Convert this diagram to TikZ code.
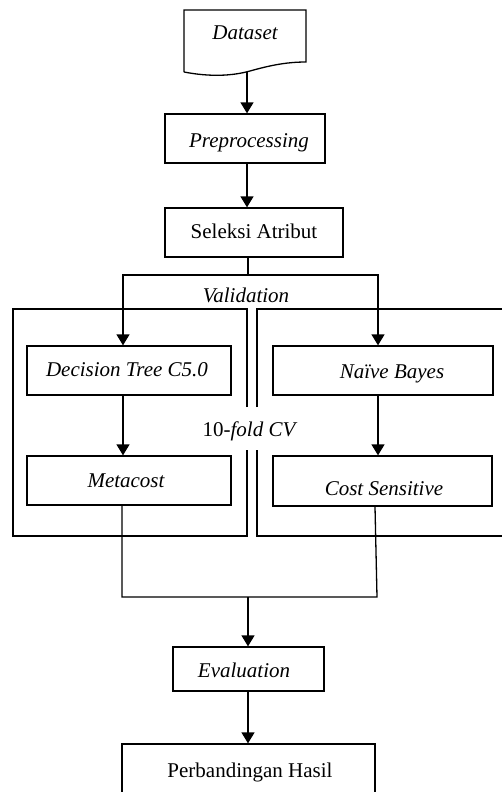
\documentclass[tikz,border=0pt]{standalone}
\usepackage{fontspec}
\setmainfont{Liberation Serif}
\usetikzlibrary{arrows.meta,calc}
\begin{document}
\begin{tikzpicture}[x=1pt,y=-1pt,
  ln/.style={line width=1.3pt},
  arr/.style={ln,-{Triangle[width=13pt,length=11pt]}},
  box/.style={draw,line width=1.3pt,inner sep=0pt},
  txt/.style={anchor=base,inner sep=0pt,font=\fontsize{21}{25}\selectfont}]
\useasboundingbox (0,0) rectangle (502,792);
% Dataset document shape
\draw[ln] (184,72) -- (184,10) -- (306,10) -- (306,62)
  .. controls (285,62) and (268,66) .. (250,71)
  .. controls (232,76) and (210,77) .. (184,72);
\coordinate (dsb) at (247,71.5);
\node[txt] (ds) at (245,40) {\itshape Dataset};
% boxes
\node[box,minimum width=160pt,minimum height=49pt] (pre) at (245,138.5) {};
\node[box,minimum width=178pt,minimum height=49pt] (sel) at (254,232.5) {};
\node[box,minimum width=204pt,minimum height=49pt] (dt) at (129,370.5) {};
\node[box,minimum width=220pt,minimum height=49pt] (nb) at (383,370.5) {};
\node[box,minimum width=204pt,minimum height=49pt] (meta) at (129,480.5) {};
\node[box,minimum width=219pt,minimum height=50pt] (cs) at (382.5,481) {};
\node[box,minimum width=151pt,minimum height=44pt] (eval) at (248.5,669) {};
\node[box,minimum width=253pt,minimum height=56pt] (hasil) at (248.5,772) {};
% texts
\node[txt] (tpre) at (249,147) {\itshape Preprocessing};
\node[txt] (tsel) at (254,238) {Seleksi Atribut};
\node[txt] (tval) at (246,302) {\itshape Validation};
\node[txt] (tdt) at (127,376) {\itshape Decision Tree C5.0};
\node[txt] (tnb) at (392,378) {\itshape Naïve Bayes};
\node[txt] (tcv) at (250,436) {10-\textit{fold CV}};
\node[txt] (tmeta) at (126,487) {\itshape Metacost};
\node[txt] (tcs) at (384,495) {\itshape Cost Sensitive};
\node[txt] (teval) at (244,677) {\itshape Evaluation};
\node[txt] (thasil) at (250,777) {Perbandingan Hasil};
% outer validation boxes
\draw[ln] (247,407) -- (247,309) -- (13,309) -- (13,536) -- (247,536) -- (247,450);
\draw[ln] (257,407) -- (257,309) -- (506,309);
\draw[ln] (506,536) -- (257,536) -- (257,450);
% connectors
\coordinate (split) at (248,275);
\coordinate (jl) at (123,275);
\coordinate (jr) at (378,275);
\coordinate (mrg) at (248,597);
\draw[arr] (dsb) -- (dsb |- pre.north);
\draw[arr] (pre.south -| dsb) -- (sel.north -| dsb);
\draw[ln] (sel.south -| split) -- (split);
\draw[arr] (split) -- (jl) -- (jl |- dt.north);
\draw[arr] (split) -- (jr) -- (jr |- nb.north);
\draw[arr] (jl |- dt.south) -- (jl |- meta.north);
\draw[arr] (jr |- nb.south) -- (jr |- cs.north);
\coordinate (ml) at (122,597);
\coordinate (mr) at (377,597);
\draw[ln] (meta.south -| ml) -- (ml) -- (mr) -- ($(cs.south -| mr)+(-2,0)$);
\draw[arr] (mrg) -- (mrg |- eval.north);
\draw[arr] (eval.south -| mrg) -- (mrg |- hasil.north);
\end{tikzpicture}
\end{document}
